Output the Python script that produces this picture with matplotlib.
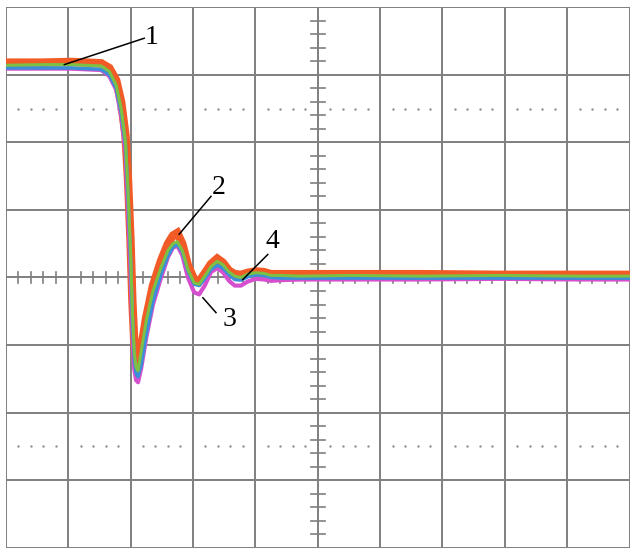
import numpy as np
import matplotlib
matplotlib.use('Agg')
import matplotlib.pyplot as plt

plt.rcParams['font.family'] = 'serif'
plt.rcParams['font.serif'] = ['Liberation Serif', 'DejaVu Serif']

# time axis in screen divisions (-5..5), values in divisions (-4..4)
t = [-5.0, -4.42, -3.95, -3.47, -3.34, -3.23, -3.15, -3.08, -3.04, -3.00,
     -2.97, -2.94, -2.91, -2.88, -2.83, -2.75, -2.64, -2.51, -2.40, -2.32,
     -2.25, -2.17, -2.08, -1.98, -1.90, -1.81, -1.71, -1.61, -1.52, -1.42,
     -1.33, -1.23, -1.12, -0.99, -0.86, -0.75, -0.59, -0.27, 0.53, 1.65,
     2.92, 4.20, 5.0]

trace_orange = [3.18, 3.18, 3.19, 3.17, 3.10, 2.92, 2.60, 2.10, 1.45, 0.55,
                -0.35, -0.95, -1.25, -1.30, -1.05, -0.60, -0.12, 0.25, 0.50, 0.62,
                0.66, 0.50, 0.18, -0.03, -0.06, 0.06, 0.20, 0.28, 0.22, 0.10,
                0.05, 0.04, 0.07, 0.09, 0.08, 0.05, 0.05, 0.05, 0.05, 0.05,
                0.04, 0.04, 0.04]
trace_magenta = [3.09, 3.09, 3.09, 3.07, 2.98, 2.78, 2.40, 1.85, 1.00, 0.10,
                 -0.80, -1.35, -1.52, -1.55, -1.35, -0.90, -0.40, 0.00, 0.30, 0.44,
                 0.47, 0.33, 0.00, -0.22, -0.25, -0.12, 0.08, 0.14, 0.08, -0.05,
                 -0.12, -0.12, -0.06, -0.02, -0.03, -0.05, -0.04, -0.03, -0.03, -0.03,
                 -0.02, -0.03, -0.03]
trace_blue = [3.10, 3.10, 3.10, 3.08, 3.00, 2.80, 2.45, 1.95, 1.20, 0.30,
              -0.60, -1.20, -1.42, -1.47, -1.30, -0.85, -0.35, 0.05, 0.32, 0.45,
              0.49, 0.38, 0.10, -0.10, -0.12, -0.02, 0.12, 0.18, 0.14, 0.04,
              -0.03, -0.04, 0.01, 0.04, 0.03, 0.00, -0.01, -0.01, -0.01, -0.01,
              -0.01, -0.01, -0.01]
trace_green = [3.14, 3.15, 3.15, 3.13, 3.05, 2.85, 2.50, 2.00, 1.30, 0.40,
               -0.50, -1.10, -1.33, -1.38, -1.10, -0.65, -0.20, 0.15, 0.40, 0.50,
               0.53, 0.40, 0.12, -0.08, -0.10, 0.02, 0.16, 0.24, 0.19, 0.08,
               0.02, 0.00, 0.05, 0.07, 0.06, 0.03, 0.03, 0.02, 0.03, 0.02,
               0.03, 0.02, 0.02]

labels = ['1', '2', '3', '4']
label_pos = [(-2.67, 3.55), (-1.58, 1.33), (-1.42, -0.62), (-0.72, 0.53)]
leader_from = [(-2.78, 3.54), (-1.71, 1.20), (-1.63, -0.52), (-0.80, 0.34)]
leader_to = [(-4.06, 3.15), (-2.22, 0.64), (-1.84, -0.30), (-1.20, -0.03)]

fig = plt.figure(figsize=(6.36, 5.5), dpi=100)
ax = fig.add_axes([0.009, 0.004, 0.981, 0.983])
ax.set_xlim(-5, 5)
ax.set_ylim(-4, 4)
ax.axis('off')

grid_c = '#7f7f7f'
for gx in range(-5, 6):
    ax.axvline(gx, color=grid_c, lw=1.4, zorder=1)
for gy in range(-4, 5):
    ax.axhline(gy, color=grid_c, lw=1.4, zorder=1)

# centre graticule ticks and dotted lines
minor_x = [v / 5 for v in range(-25, 26) if v % 5 != 0]
minor_y = [v / 5 for v in range(-20, 21) if v % 5 != 0]
for mx in minor_x:
    ax.plot([mx, mx], [-0.08, 0.08], color=grid_c, lw=1.2, zorder=1)
for my in minor_y:
    ax.plot([-0.11, 0.11], [my, my], color=grid_c, lw=1.2, zorder=1)
for dy in (2.5, -2.5):
    ax.plot(minor_x, [dy] * len(minor_x), ls='none', marker='.', ms=1.5,
            color='#909090', zorder=1)

ax.plot(t, trace_orange, color='#f25a26', lw=6, zorder=2, solid_joinstyle='miter')
ax.plot(t, trace_magenta, color='#d64fcf', lw=3, zorder=3)
ax.plot(t, trace_blue, color='#3b8fd9', lw=2.5, zorder=4)
ax.plot(t, trace_green, color='#7cc044', lw=2.2, zorder=5)

for lab, pos, p0, p1 in zip(labels, label_pos, leader_from, leader_to):
    ax.plot([p0[0], p1[0]], [p0[1], p1[1]], color='black', lw=1.1, zorder=6)
    ax.text(pos[0], pos[1], lab, fontsize=20,
            ha='center', va='center', zorder=7)

fig.savefig('out.png', dpi=100)
